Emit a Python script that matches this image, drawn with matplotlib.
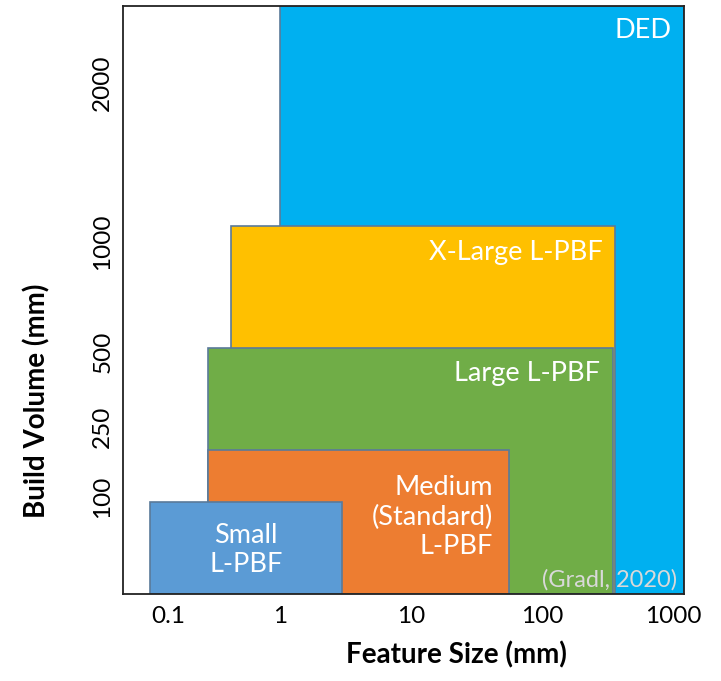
import numpy as np
import matplotlib
matplotlib.use('Agg')
import matplotlib.pyplot as plt
import matplotlib.transforms as mtransforms

plt.rcParams['font.family'] = ['Lato', 'DejaVu Sans']

# machine classes: feature size range (mm) and build volume (mm)
names = ['DED', 'X-Large L-PBF', 'Large L-PBF', 'Medium\n(Standard)\nL-PBF', 'Small\nL-PBF']
feat_min = [1.0, 0.42, 0.28, 0.28, 0.102]
feat_max = [1215, 360, 350, 56, 3]
build_vol = [2500, 1100, 520, 200, 95]
colors = ['#00B0F0', '#FFC000', '#70AD47', '#ED7D31', '#5B9BD5']

x_ticks = [0.1, 1, 10, 100, 1000]
x_ticklabels = ['0.1', '1', '10', '100', '1000']
y_ticks = [100, 250, 500, 1000, 2000]

# the y axis of the original is not linear: piecewise mapping of volume -> height
vol_knots = np.array([0, 100, 250, 500, 1000, 2000, 2500])
pos_knots = np.array([0, 97, 167, 242, 352, 511, 588])

def fwd(v):
    return np.interp(v, vol_knots, pos_knots)

def inv(p):
    return np.interp(p, pos_knots, vol_knots)

fig = plt.figure(figsize=(7.21, 6.81), dpi=100)
ax = fig.add_axes([0.1706, 0.1278, 0.7781, 0.8634])
ax.set_xscale('log')
ax.set_yscale('function', functions=(fwd, inv))

for lo, hi, v, c in zip(feat_min, feat_max, build_vol, colors):
    ax.bar(lo, v, width=hi - lo, bottom=0, align='edge', color=c,
           edgecolor='#5a7a9a', linewidth=1.2)

ax.set_xlim(0.0633, 1215)
ax.set_ylim(0, 2500)

# labels inside boxes (right aligned, near the top right corner)
offs = {0: (-13, -25), 1: (-12, -26), 2: (-13, -26), 3: (-16, -67)}
for i, (dx, dy) in offs.items():
    ax.annotate(names[i], xy=(feat_max[i], build_vol[i]), xytext=(dx, dy),
                textcoords='offset pixels', ha='right', va='center',
                multialignment='right', color='white', fontsize=19.5,
                linespacing=1.22)
# small box: centered
ax.annotate(names[4], xy=(np.sqrt(feat_min[4] * feat_max[4]), build_vol[4]),
            xytext=(0, -48), textcoords='offset pixels', ha='center', va='center',
            multialignment='center', color='white', fontsize=19.5, linespacing=1.22)

ax.text(0.988, 0.024, '(Gradl, 2020)', transform=ax.transAxes, ha='right',
        va='center', color='#d9d9d9', fontsize=17)

ax.set_xticks(x_ticks)
ax.set_xticklabels(x_ticklabels)
ax.xaxis.set_minor_locator(matplotlib.ticker.NullLocator())
ax.set_yticks(y_ticks)
ax.set_yticklabels([str(t) for t in y_ticks])
ax.yaxis.set_minor_locator(matplotlib.ticker.NullLocator())
ax.tick_params(axis='both', length=0, labelsize=17.5)
ax.tick_params(axis='x', pad=9)
ax.tick_params(axis='y', pad=7, labelrotation=90)
for lab in ax.get_yticklabels():
    lab.set_va('center')
# the 0.1 label sits a bit right of its decade in the original
lab0 = ax.get_xticklabels()[0]
lab0.set_transform(lab0.get_transform() + mtransforms.ScaledTranslation(0.19, 0, fig.dpi_scale_trans))

for s in ax.spines.values():
    s.set_linewidth(1.3)
    s.set_color('#222222')

ax.set_xlabel('Feature Size (mm)', fontsize=20, fontweight='bold')
ax.set_ylabel('Build Volume (mm)', fontsize=20, fontweight='bold')
ax.xaxis.set_label_coords(0.594, -0.080)
ax.yaxis.set_label_coords(-0.130, 0.328)

fig.savefig('out.png', dpi=100)
